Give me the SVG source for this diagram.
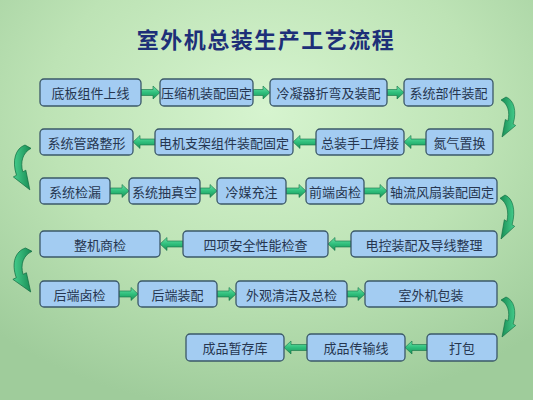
<svg xmlns="http://www.w3.org/2000/svg" width="533" height="400" viewBox="0 0 533 400">
<defs>
<radialGradient id="bg" cx="50%" cy="28%" r="75%">
<stop offset="0" stop-color="#d6f4cf"/>
<stop offset="0.55" stop-color="#bde3b5"/>
<stop offset="1" stop-color="#9fcc9b"/>
</radialGradient>
<linearGradient id="ag" x1="0" y1="0" x2="0" y2="1">
<stop offset="0" stop-color="#6fe3a8"/>
<stop offset="0.5" stop-color="#2fbf7c"/>
<stop offset="1" stop-color="#1b9258"/>
</linearGradient>
<linearGradient id="cg" x1="0" y1="0" x2="1" y2="0">
<stop offset="0" stop-color="#178a52"/>
<stop offset="1" stop-color="#46cf8e"/>
</linearGradient>
<path id="curve" d="M0,3 L5,0 C13,3 16,14 12.1,27 L14.7,28.5 L1,40 L4.3,22.5 L6.9,24 C9,15 7,7 0,3 Z"/>
</defs>
<style>
.box{fill:#a3ccf2;stroke:#3b5868;stroke-width:1.3}
.t{font-family:"Noto Sans CJK SC","Noto Sans",sans-serif;font-size:13px;fill:#263650;text-anchor:middle;dominant-baseline:central}
.title{font-family:"Noto Sans CJK SC","Noto Sans",sans-serif;font-size:22px;font-weight:bold;fill:#1d2f78;text-anchor:middle;letter-spacing:1.5px}
.arr{fill:url(#ag);stroke:#137045;stroke-width:0.6}
.cur{fill:url(#cg);stroke:#0f6a40;stroke-width:0.6}
</style>
<rect x="0" y="0" width="533" height="400" fill="url(#bg)"/>
<text class="title" x="266" y="48">室外机总装生产工艺流程</text>

<g id="connectors">
<polygon class="arr" points="141,89.5 153,89.5 153,86 160,92.5 153,99 153,95.5 141,95.5"/>
<polygon class="arr" points="253,89.5 263,89.5 263,86 270,92.5 263,99 263,95.5 253,95.5"/>
<polygon class="arr" points="387,89.5 397,89.5 397,86 404,92.5 397,99 397,95.5 387,95.5"/>
<polygon class="arr" points="426,139 411,139 411,135.5 404,142 411,148.5 411,145 426,145"/>
<polygon class="arr" points="316,139 300,139 300,135.5 293,142 300,148.5 300,145 316,145"/>
<polygon class="arr" points="155,139 140,139 140,135.5 133,142 140,148.5 140,145 155,145"/>
<polygon class="arr" points="110,188 122,188 122,184.5 129,191 122,197.5 122,194 110,194"/>
<polygon class="arr" points="200,188 210,188 210,184.5 217,191 210,197.5 210,194 200,194"/>
<polygon class="arr" points="286,188 299,188 299,184.5 306,191 299,197.5 299,194 286,194"/>
<polygon class="arr" points="364,188 380,188 380,184.5 387,191 380,197.5 380,194 364,194"/>
<polygon class="arr" points="351,241 335,241 335,237.5 328,244 335,250.5 335,247 351,247"/>
<polygon class="arr" points="183,241 167,241 167,237.5 160,244 167,250.5 167,247 183,247"/>
<polygon class="arr" points="119,291 131,291 131,287.5 138,294 131,300.5 131,297 119,297"/>
<polygon class="arr" points="217,291 229,291 229,287.5 236,294 229,300.5 229,297 217,297"/>
<polygon class="arr" points="347,291 358,291 358,287.5 365,294 358,300.5 358,297 347,297"/>
<polygon class="arr" points="427,344.5 412,344.5 412,341 405,347.5 412,354 412,350.5 427,350.5"/>
<polygon class="arr" points="307,344.5 291,344.5 291,341 284,347.5 291,354 291,350.5 307,350.5"/>
<use href="#curve" class="cur" transform="translate(501,97)"/>
<use href="#curve" class="cur" transform="translate(500,195) scale(1,1.1)"/>
<use href="#curve" class="cur" transform="translate(501,297)"/>
<use href="#curve" class="cur" transform="translate(31,145) scale(-1.2,1.12)"/>
<use href="#curve" class="cur" transform="translate(32,248) scale(-1.3,1.1)"/>
</g>

<g id="n1"><rect class="box" x="40" y="79" width="101" height="27" rx="4"/><text class="t" x="90.5" y="92.5">底板组件上线</text></g>
<g id="n2"><rect class="box" x="160" y="79" width="93" height="27" rx="4"/><text class="t" x="206.5" y="92.5">压缩机装配固定</text></g>
<g id="n3"><rect class="box" x="270" y="79" width="117" height="27" rx="4"/><text class="t" x="328.5" y="92.5">冷凝器折弯及装配</text></g>
<g id="n4"><rect class="box" x="404" y="79" width="89" height="27" rx="4"/><text class="t" x="448.5" y="92.5">系统部件装配</text></g>

<g id="n5"><rect class="box" x="426" y="129" width="67" height="26" rx="4"/><text class="t" x="459.5" y="142">氮气置换</text></g>
<g id="n6"><rect class="box" x="316" y="129" width="88" height="26" rx="4"/><text class="t" x="360" y="142">总装手工焊接</text></g>
<g id="n7"><rect class="box" x="155" y="129" width="138" height="26" rx="4"/><text class="t" x="224" y="142">电机支架组件装配固定</text></g>
<g id="n8"><rect class="box" x="40" y="129" width="93" height="26" rx="4"/><text class="t" x="86.5" y="142">系统管路整形</text></g>

<g id="n9"><rect class="box" x="40" y="178" width="70" height="26" rx="4"/><text class="t" x="75" y="191">系统检漏</text></g>
<g id="n10"><rect class="box" x="129" y="178" width="71" height="26" rx="4"/><text class="t" x="164.5" y="191">系统抽真空</text></g>
<g id="n11"><rect class="box" x="217" y="178" width="69" height="26" rx="4"/><text class="t" x="251.5" y="191">冷媒充注</text></g>
<g id="n12"><rect class="box" x="306" y="178" width="58" height="26" rx="4"/><text class="t" x="335" y="191">前端卤检</text></g>
<g id="n13"><rect class="box" x="387" y="178" width="110" height="26" rx="4"/><text class="t" x="442" y="191">轴流风扇装配固定</text></g>

<g id="n14"><rect class="box" x="351" y="231" width="146" height="26" rx="4"/><text class="t" x="424" y="244">电控装配及导线整理</text></g>
<g id="n15"><rect class="box" x="183" y="231" width="145" height="26" rx="4"/><text class="t" x="255.5" y="244">四项安全性能检查</text></g>
<g id="n16"><rect class="box" x="40" y="231" width="120" height="26" rx="4"/><text class="t" x="100" y="244">整机商检</text></g>

<g id="n17"><rect class="box" x="40" y="281" width="79" height="26" rx="4"/><text class="t" x="79.5" y="294">后端卤检</text></g>
<g id="n18"><rect class="box" x="138" y="281" width="79" height="26" rx="4"/><text class="t" x="177.5" y="294">后端装配</text></g>
<g id="n19"><rect class="box" x="236" y="281" width="111" height="26" rx="4"/><text class="t" x="291.5" y="294">外观清洁及总检</text></g>
<g id="n20"><rect class="box" x="365" y="281" width="132" height="26" rx="4"/><text class="t" x="431" y="294">室外机包装</text></g>

<g id="n21"><rect class="box" x="427" y="334" width="70" height="27" rx="4"/><text class="t" x="462" y="347.5">打包</text></g>
<g id="n22"><rect class="box" x="307" y="334" width="98" height="27" rx="4"/><text class="t" x="356" y="347.5">成品传输线</text></g>
<g id="n23"><rect class="box" x="186" y="334" width="98" height="27" rx="4"/><text class="t" x="235" y="347.5">成品暂存库</text></g>
</svg>
